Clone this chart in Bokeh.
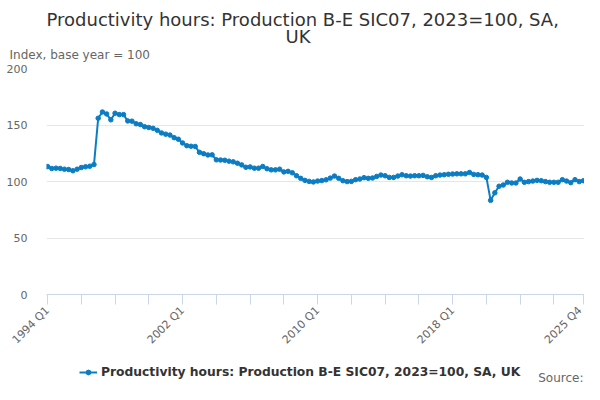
import math
from bokeh.plotting import figure
from bokeh.layouts import column
from bokeh.models import (ColumnDataSource, Range1d, FixedTicker, Legend,
                          LegendItem, Title, Label)
from bokeh.embed import file_html
from bokeh.resources import INLINE

# quarterly index, 1994 Q1 .. 2025 Q4
quarters = ["%d Q%d" % (y, q) for y in range(1994, 2026) for q in range(1, 5)]
productivity = [
    113.2, 111.5, 111.8, 111.6, 110.9, 110.6, 109.5, 110.9, 112.4, 113.0, 113.5, 115.0,
    156.0, 161.5, 159.8, 154.6, 160.4, 159.2, 159.2, 153.6, 153.4, 151.1, 150.4, 148.5,
    147.8, 147.1, 145.3, 143.0, 141.9, 141.1, 138.8, 137.4, 134.1, 131.7, 131.2, 131.0,
    125.8, 124.6, 123.5, 123.6, 119.2, 119.0, 118.8, 118.0, 117.4, 116.2, 114.7, 112.6,
    112.9, 111.8, 111.8, 113.3, 111.3, 110.3, 110.3, 110.9, 108.5, 109.0, 107.7, 105.1,
    102.8, 101.0, 100.1, 99.6, 100.4, 100.8, 101.5, 103.0, 104.8, 102.8, 100.7, 99.9,
    100.1, 101.6, 102.2, 103.4, 102.8, 103.1, 104.5, 105.7, 105.1, 103.6, 103.6, 104.8,
    106.0, 105.1, 104.8, 105.1, 105.1, 105.4, 104.2, 103.6, 105.1, 105.7, 106.0, 106.4,
    106.6, 106.8, 106.8, 106.8, 108.0, 106.3, 106.0, 105.7, 103.6, 83.3, 90.0, 95.8,
    96.9, 99.3, 98.7, 98.7, 102.2, 99.3, 99.9, 100.4, 101.0, 100.7, 99.9, 99.3,
    99.3, 99.3, 101.6, 100.4, 99.0, 101.6, 99.9, 100.7,
]
y_ticks = [0, 50, 100, 150, 200]
label_quarters = ["1994 Q1", "2002 Q1", "2010 Q1", "2018 Q1", "2025 Q4"]

series_name = "Productivity hours: Production B-E SIC07, 2023=100, SA, UK"
line_color = "#0b7dc2"
font = "DejaVu Sans"

source = ColumnDataSource(data=dict(x=list(range(len(quarters))), y=productivity))

p = figure(width=584, height=354, output_backend="svg", toolbar_location=None,
           title=None,
           x_range=Range1d(-0.25, len(quarters) - 0.75), y_range=Range1d(0, 200),
           min_border_left=46, min_border_right=0, min_border_top=68,
           min_border_bottom=57)
p.outline_line_color = None

p.line("x", "y", source=source, line_color=line_color, line_width=2)
p.scatter("x", "y", source=source, size=4.5, fill_color=line_color,
          line_color=line_color)

# axes
p.xgrid.grid_line_color = None
p.ygrid.grid_line_color = "#e6e6e6"
p.yaxis.ticker = FixedTicker(ticks=y_ticks)
p.yaxis.axis_line_color = None
p.yaxis.major_tick_line_color = None
p.yaxis.minor_tick_line_color = None
p.yaxis.major_label_standoff = 13
p.yaxis.major_label_text_font = font
p.yaxis.major_label_text_font_size = "11px"
p.yaxis.major_label_text_color = "#666666"

x_ticks = list(range(0, len(quarters), 8)) + [len(quarters) - 1]
p.xaxis.ticker = FixedTicker(ticks=x_ticks)
p.xaxis.major_label_overrides = {
    i: (quarters[i] if quarters[i] in label_quarters else "") for i in x_ticks}
p.xaxis.axis_line_color = "#ccd6eb"
p.xaxis.major_tick_line_color = "#ccd6eb"
p.xaxis.major_tick_out = 10
p.xaxis.major_tick_in = 0
p.xaxis.minor_tick_line_color = None
p.xaxis.major_label_orientation = math.pi / 4
p.xaxis.major_label_standoff = 4
p.xaxis.major_label_text_font = font
p.xaxis.major_label_text_font_size = "11px"
p.xaxis.major_label_text_color = "#666666"

# titles above: nearest to the frame first
p.add_layout(Title(text="Index, base year = 100", align="left", offset=-37,
                   standoff=14, text_font=font, text_font_size="12px",
                   text_font_style="normal", text_color="#666666"), "above")
p.add_layout(Title(text="UK", align="left", offset=239, standoff=-16,
                   text_font=font, text_font_size="18px",
                   text_font_style="normal", text_color="#333333"), "above")
p.add_layout(Title(text="Productivity hours: Production B-E SIC07, 2023=100, SA,",
                   align="left", offset=0, standoff=4, text_font=font,
                   text_font_size="18px", text_font_style="normal",
                   text_color="#333333"), "above")

# legend row underneath; its glyphs share the data but sit outside the view
p2 = figure(width=584, height=30, output_backend="svg", toolbar_location=None,
            title=None, x_axis_location=None, y_axis_location=None,
            x_range=Range1d(0, 1), y_range=Range1d(0, 1), min_border=0)
p2.outline_line_color = None
p2.grid.visible = False
ln = p2.line("x", "y", source=source, line_color=line_color, line_width=2)
sc = p2.scatter("x", "y", source=source, size=4.5, fill_color=line_color,
                line_color=line_color)
legend = Legend(items=[LegendItem(label=series_name, renderers=[ln, sc])],
                location=(33, 4), orientation="horizontal",
                label_text_font=font, label_text_font_size="12.3px",
                label_text_font_style="bold", label_text_color="#333333",
                glyph_width=18, glyph_height=12, label_height=16,
                border_line_color=None, background_fill_alpha=0,
                padding=1, margin=0, spacing=0, label_standoff=4)
p2.add_layout(legend)
p2.add_layout(Label(x=537, y=0, x_units="screen", y_units="screen",
                    text="Source:", text_align="right", text_baseline="bottom",
                    text_font=font, text_font_size="12px", text_color="#666666"))

open("out.html", "w").write(file_html(column(p, p2, spacing=0), INLINE))
